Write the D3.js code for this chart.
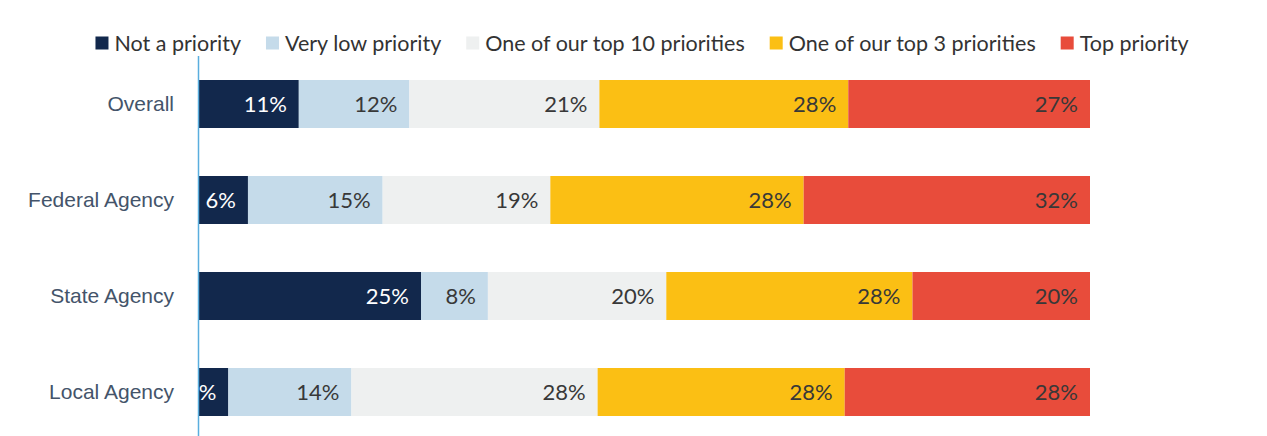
<!DOCTYPE html>
<html lang="en">
  <head>
    <meta charset="UTF-8" />
    <title>Priority by Agency Type</title>
    <script src="https://d3js.org/d3.v7.min.js"></script>
    <style>
      body {
        margin: 0;
        background-color: #fff;
        font-family: Lato, "Open Sans", sans-serif;
      }
      .cat-label {
        font-size: 21px;
        fill: #44546a;
      }
      .val-label {
        font-size: 22px;
      }
      .legend text {
        font-size: 21.5px;
        fill: #333;
      }
    </style>
  </head>
  <body>
    <div class="chart"></div>

    <script>
      const categories = ["Overall", "Federal Agency", "State Agency", "Local Agency"];
      const seriesNames = [
        "Not a priority",
        "Very low priority",
        "One of our top 10 priorities",
        "One of our top 3 priorities",
        "Top priority",
      ];
      const colors = ["#12284c", "#c5dbea", "#eef0f0", "#fbbf14", "#e84c3b"];

      // percent values, one array per series
      const notPriority = [11.3, 5.6, 25.0, 3.4];
      const veryLow = [12.4, 15.1, 7.5, 13.8];
      const top10 = [21.3, 18.8, 20.0, 27.6];
      const top3 = [27.9, 28.4, 27.6, 27.7];
      const topPriority = [27.1, 32.1, 19.9, 27.5];
      // labels as printed on the chart
      const labels = [
        ["11%", "6%", "25%", "3%"],
        ["12%", "15%", "8%", "14%"],
        ["21%", "19%", "20%", "28%"],
        ["28%", "28%", "28%", "28%"],
        ["27%", "32%", "20%", "28%"],
      ];
      const seriesValues = [notPriority, veryLow, top10, top3, topPriority];

      const W = 1267, H = 436;
      const margin = { top: 56, right: 177, bottom: -4, left: 198 };
      const width = W - margin.left - margin.right;
      const height = H - margin.top - margin.bottom;

      const svg = d3
        .select(".chart")
        .append("svg")
        .attr("width", W)
        .attr("height", H);

      const g = svg
        .append("g")
        .attr("transform", `translate(${margin.left},${margin.top})`);

      const rows = categories.map((c, i) => {
        const row = { category: c };
        seriesNames.forEach((s, k) => (row[s] = seriesValues[k][i]));
        return row;
      });
      rows.forEach((r) => {
        r.total = d3.sum(seriesNames, (s) => r[s]);
      });

      const stacked = d3.stack().keys(seriesNames)(rows);

      const x = d3.scaleLinear().domain([0, 1]).range([0, width]);
      const y = d3
        .scaleBand()
        .domain(categories)
        .range([0, height])
        .paddingInner(0.5)
        .paddingOuter(0.25);

      svg
        .append("defs")
        .append("clipPath")
        .attr("id", "plot-clip")
        .append("rect")
        .attr("x", 0)
        .attr("y", 0)
        .attr("width", width)
        .attr("height", height);

      const plot = g.append("g").attr("clip-path", "url(#plot-clip)");

      const layers = plot
        .selectAll(".layer")
        .data(stacked)
        .enter()
        .append("g")
        .attr("class", "layer")
        .attr("fill", (d, i) => colors[i]);

      layers
        .selectAll("rect")
        .data((d) => d.map((p) => ({ p, key: d.key })))
        .enter()
        .append("rect")
        .attr("x", (d) => x(d.p[0] / d.p.data.total))
        .attr("y", (d) => y(d.p.data.category))
        .attr("width", (d) => x(d.p[1] / d.p.data.total) - x(d.p[0] / d.p.data.total))
        .attr("height", y.bandwidth());

      layers
        .selectAll("text")
        .data((d, k) => d.map((p, i) => ({ p, k, i })))
        .enter()
        .append("text")
        .attr("class", "val-label")
        .attr("x", (d) => x(d.p[1] / d.p.data.total) - 12)
        .attr("y", (d) => y(d.p.data.category) + y.bandwidth() / 2)
        .attr("dy", "0.36em")
        .attr("text-anchor", "end")
        .attr("fill", (d) => (d.k === 0 ? "#fff" : "#383838"))
        .text((d) => labels[d.k][d.i]);

      // category axis
      const yAxis = g.append("g").call(d3.axisLeft(y).tickSize(0).tickPadding(24));
      yAxis.select(".domain").remove();
      yAxis.selectAll("text").attr("class", "cat-label").attr("font-family", null).attr("font-size", null);

      g.append("line")
        .attr("x1", 0.5)
        .attr("x2", 0.5)
        .attr("y1", 0)
        .attr("y2", height)
        .attr("stroke", "#5aaede")
        .attr("stroke-width", 1.5);

      // legend
      const legend = svg.append("g").attr("class", "legend");
      const items = legend
        .selectAll(".item")
        .data(seriesNames)
        .enter()
        .append("g")
        .attr("class", "item");
      items
        .append("rect")
        .attr("width", 13)
        .attr("height", 13)
        .attr("y", -6.5)
        .attr("fill", (d, i) => colors[i]);
      items
        .append("text")
        .attr("x", 19)
        .attr("dy", "0.35em")
        .text((d) => d);

      let pos = 0;
      items.each(function () {
        const w = this.querySelector("text").getComputedTextLength();
        d3.select(this).attr("transform", `translate(${pos},0)`);
        pos += 19 + w + 25;
      });
      const legendWidth = pos - 25;
      legend.attr("transform", `translate(${642 - legendWidth / 2},43)`);
    </script>
  </body>
</html>
